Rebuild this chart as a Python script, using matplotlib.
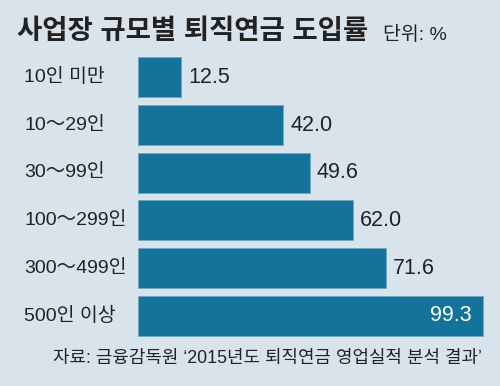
import matplotlib
matplotlib.use("Agg")
import matplotlib.pyplot as plt
import matplotlib.transforms as mtransforms

categories = ["10인 미만", "10～29인", "30～99인", "100～299인", "300～499인", "500인 이상"]
values = [12.5, 42.0, 49.6, 62.0, 71.6, 99.3]

title = "사업장 규모별 퇴직연금 도입률"
unit = "단위: %"
source = "자료: 금융감독원 \u20182015년도 퇴직연금 영업실적 분석 결과\u2019"

bg = "#d9e3ec"
bar_color = "#13739a"

plt.rcParams["font.family"] = ["Liberation Sans", "Noto Sans CJK KR", "DejaVu Sans"]

W, H = 500, 386
fig = plt.figure(figsize=(W / 100, H / 100), dpi=100, facecolor=bg)

# axes placed in pixel terms: bars start at x=138, 100 units = 347.6 px
left, right = 137.5, 137.5 + 347.6
top, bottom = 53.5, 339.5
ax = fig.add_axes([left / W, 1 - bottom / H, (right - left) / W, (bottom - top) / H])
ax.set_facecolor(bg)
ax.set_xlim(0, 100)
ax.set_ylim(len(values) - 0.5, -0.5)
ax.axis("off")

ypos = list(range(len(values)))
ax.barh(ypos, values, height=0.84, color=bar_color, edgecolor="#6fa6c0", linewidth=0.6)

trans = mtransforms.blended_transform_factory(fig.transFigure, ax.transData)
for y, cat, v in zip(ypos, categories, values):
    ax.text(24 / W, y, cat, transform=trans, ha="left", va="center",
            fontsize=14, color="#222222")
    if v > 90:
        ax.text(v - 3.2, y, f"{v:.1f}", ha="right", va="center",
                fontsize=15.5, color="white")
    else:
        ax.text(v + 2.0, y, f"{v:.1f}", ha="left", va="center",
                fontsize=15.5, color="#222222")

fig.text(17 / W, 1 - 32 / H, title, ha="left", va="center", fontsize=19.8,
         fontweight="bold", color="#222222")
fig.text(383 / W, 1 - 35 / H, unit, ha="left", va="center", fontsize=14,
         color="#222222")
fig.text(482 / W, 1 - 358 / H, source, ha="right", va="center", fontsize=12.9,
         color="#222222")

fig.savefig("out.png", dpi=100, facecolor=bg)
